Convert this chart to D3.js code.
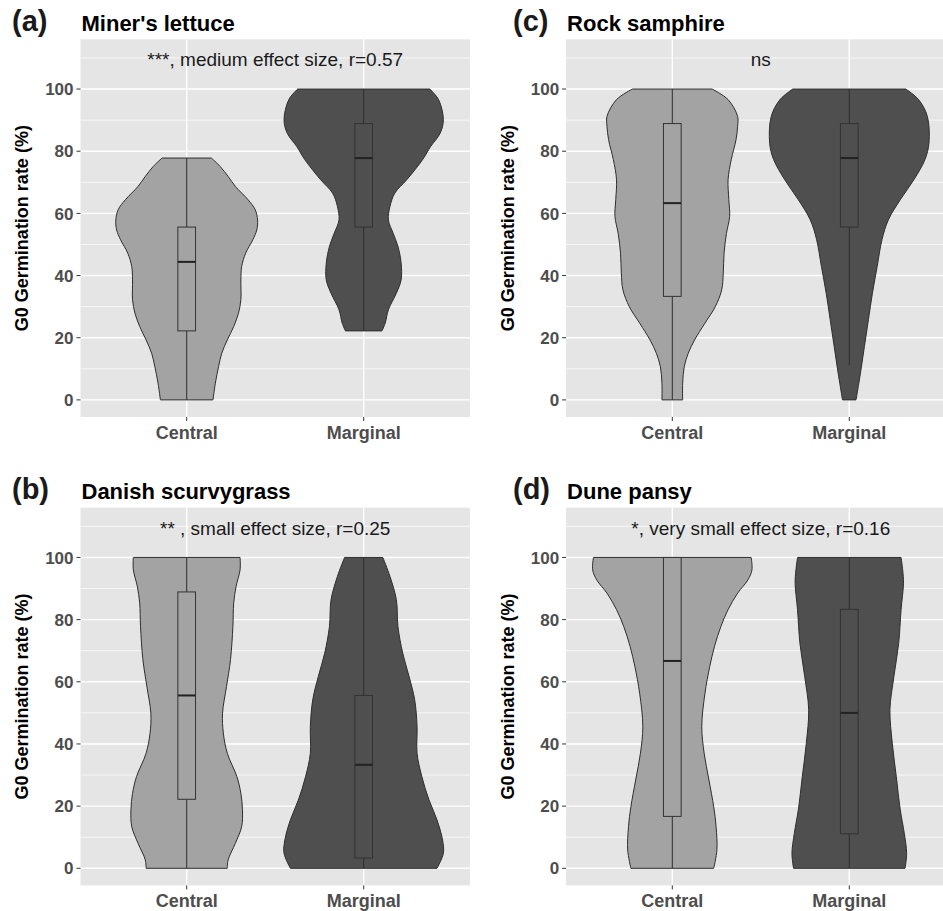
<!DOCTYPE html>
<html><head><meta charset="utf-8">
<script src="https://cdn.jsdelivr.net/npm/d3@7"></script>
<style>body{margin:0;background:#fff}svg{display:block}text{font-family:"Liberation Sans",Arial,sans-serif}</style>
</head><body><svg id="c" width="943" height="911"></svg>
<script>
// ---------- data ----------
const groups = ["Central", "Marginal"];
const panelTags = ["(a)", "(b)", "(c)", "(d)"];
const panelTitles = ["Miner's lettuce", "Danish scurvygrass", "Rock samphire", "Dune pansy"];
const annotations = ["***, medium effect size, r=0.57", "** , small effect size, r=0.25", "ns", "*, very small effect size, r=0.16"];
const yTicks = [0, 20, 40, 60, 80, 100];
const yMinor = [10, 30, 50, 70, 90, 110];
const annotY = 110;

// box-plot statistics per panel: [Central, Marginal]
const whiskerLow = [[0, 22.2], [0, 0], [0, 11.1], [0, 0]];
const quart1     = [[22.2, 55.6], [22.2, 3.3], [33.3, 55.6], [16.7, 11.1]];
const medians    = [[44.4, 77.8], [55.6, 33.3], [63.3, 77.8], [66.7, 50.0]];
const quart3     = [[55.6, 88.9], [88.9, 55.6], [88.9, 88.9], [100, 83.3]];
const whiskerHigh= [[77.8, 100], [100, 100], [100, 100], [100, 100]];

// violin profiles: [germination %, scaled density (1 = widest violin)]
const minersCentral = [[0,.33],[5.4,.36],[10.7,.40],[15,.44],[19.3,.51],[23.6,.59],[27.9,.65],[32.2,.68],[38.6,.68],[42.9,.69],[47.2,.74],[51.5,.83],[54.7,.88],[57.9,.89],[61.2,.86],[64.4,.77],[68.7,.61],[71.9,.52],[75.1,.42],[77.8,.31]];
const minersMarginal = [[22.2,.23],[24.7,.27],[29,.31],[34.3,.41],[38.6,.47],[44,.47],[49.4,.43],[53.6,.37],[57.9,.31],[62.2,.33],[66.5,.39],[70.8,.54],[77.3,.74],[81.5,.84],[85.8,.96],[90.1,1.0],[96.6,.94],[100,.83]];
const danishCentral = [[0,.51],[2.7,.52],[8,.61],[13.4,.69],[18.8,.70],[24.1,.68],[29.5,.63],[37,.51],[43.5,.46],[49.9,.45],[58.5,.50],[67.1,.55],[77.8,.58],[85.3,.59],[90.7,.62],[96,.67],[100,.67]];
const danishMarginal = [[0,.92],[4.8,1.0],[9.1,.99],[15.6,.92],[22,.82],[29.5,.73],[37,.67],[45.6,.67],[54.2,.64],[61.7,.57],[69.2,.49],[77.8,.43],[86.4,.41],[93.9,.33],[100,.24]];
const rockCentral = [[0,.13],[5.4,.13],[10.7,.15],[15,.20],[19.3,.28],[24.7,.41],[30,.54],[35.4,.62],[40.8,.64],[47.2,.65],[53.6,.68],[59,.72],[64.4,.71],[70.8,.70],[77.3,.74],[83.7,.80],[88,.82],[91.2,.82],[96.6,.70],[100,.50]];
const rockMarginal = [[0,.085],[8.6,.14],[17.2,.19],[25.8,.24],[34.3,.29],[42.9,.35],[51.5,.41],[57.9,.49],[64.4,.64],[70.8,.81],[77.3,.95],[82.6,1.0],[91.2,.98],[96.6,.87],[100,.71]];
const pansyCentral = [[0,.52],[5.9,.56],[13.4,.55],[19.8,.52],[28.4,.46],[37,.40],[45.6,.37],[56.3,.41],[64.9,.47],[71.4,.53],[77.8,.61],[83.2,.70],[88.5,.82],[92.8,.95],[96,1.0],[100,.99]];
const pansyMarginal = [[0,.70],[4.8,.72],[11.3,.69],[18.8,.64],[29.5,.59],[40.2,.54],[51,.51],[61.7,.56],[72.4,.62],[83.2,.65],[91.7,.68],[96,.67],[100,.65]];
const violins = [[minersCentral, minersMarginal], [danishCentral, danishMarginal], [rockCentral, rockMarginal], [pansyCentral, pansyMarginal]];

// ---------- layout / style ----------
const fills = ["#a3a3a3", "#4f4f4f"];
const PW = 389.4, PH = 377.7;
const layout = [
  {x0: 80.5, y0: 39.3, tagX: 12, base: 31},
  {x0: 80.5, y0: 507.7, tagX: 12, base: 498.5},
  {x0: 566.1, y0: 39.3, tagX: 513, base: 31},
  {x0: 566.1, y0: 507.7, tagX: 513, base: 498.5}
];

const svg = d3.select("#c");
svg.append("rect").attr("width", 943).attr("height", 911).attr("fill", "#fff");

layout.forEach((L, p) => {
  const x = d3.scaleLinear().domain([0.4, 2.6]).range([L.x0, L.x0 + PW]);
  const y = d3.scaleLinear().domain([-5.5, 116]).range([L.y0 + PH, L.y0]);
  const g = svg.append("g");

  g.append("rect").attr("x", L.x0).attr("y", L.y0).attr("width", PW).attr("height", PH).attr("fill", "#e5e5e5");
  // grid
  g.selectAll(".mn").data(yMinor).join("line")
    .attr("x1", L.x0).attr("x2", L.x0 + PW).attr("y1", d => y(d)).attr("y2", d => y(d))
    .attr("stroke", "#fff").attr("stroke-width", 0.7);
  g.selectAll(".mj").data(yTicks).join("line")
    .attr("x1", L.x0).attr("x2", L.x0 + PW).attr("y1", d => y(d)).attr("y2", d => y(d))
    .attr("stroke", "#fff").attr("stroke-width", 1.4);
  g.selectAll(".vx").data(groups).join("line")
    .attr("x1", (d, i) => x(i + 1)).attr("x2", (d, i) => x(i + 1)).attr("y1", L.y0).attr("y2", L.y0 + PH)
    .attr("stroke", "#fff").attr("stroke-width", 1.4);

  // violins
  groups.forEach((grp, i) => {
    const c = i + 1;
    const area = d3.area()
      .y(d => y(d[0]))
      .x0(d => x(c - d[1] * 0.45))
      .x1(d => x(c + d[1] * 0.45))
      .curve(d3.curveCatmullRom.alpha(0.5));
    g.append("path").attr("d", area(violins[p][i]))
      .attr("fill", fills[i]).attr("stroke", "#2e2e2e").attr("stroke-width", 1);

    // whiskers
    g.append("line").attr("x1", x(c)).attr("x2", x(c))
      .attr("y1", y(quart3[p][i])).attr("y2", y(whiskerHigh[p][i]))
      .attr("stroke", "#2e2e2e").attr("stroke-width", 1);
    g.append("line").attr("x1", x(c)).attr("x2", x(c))
      .attr("y1", y(quart1[p][i])).attr("y2", y(whiskerLow[p][i]))
      .attr("stroke", "#2e2e2e").attr("stroke-width", 1);
    // box
    const bw = 0.05;
    g.append("rect").attr("x", x(c - bw)).attr("width", x(c + bw) - x(c - bw))
      .attr("y", y(quart3[p][i])).attr("height", y(quart1[p][i]) - y(quart3[p][i]))
      .attr("fill", fills[i]).attr("stroke", "#333").attr("stroke-width", 1);
    g.append("line").attr("x1", x(c - bw)).attr("x2", x(c + bw))
      .attr("y1", y(medians[p][i])).attr("y2", y(medians[p][i]))
      .attr("stroke", "#222").attr("stroke-width", 2);
  });

  // annotation
  g.append("text").attr("x", x(1.5)).attr("y", y(annotY) + 8.5)
    .attr("text-anchor", "middle").attr("font-size", 19).attr("fill", "#1a1a1a")
    .text(annotations[p]);

  // axes
  g.selectAll(".yt").data(yTicks).join("line")
    .attr("x1", L.x0 - 4).attr("x2", L.x0).attr("y1", d => y(d)).attr("y2", d => y(d))
    .attr("stroke", "#333").attr("stroke-width", 1);
  g.selectAll(".yl").data(yTicks).join("text")
    .attr("x", L.x0 - 7).attr("y", d => y(d)).attr("dy", "0.36em")
    .attr("text-anchor", "end").attr("font-size", 17).attr("font-weight", "bold").attr("fill", "#4d4d4d")
    .text(d => d);
  g.selectAll(".xt").data(groups).join("line")
    .attr("x1", (d, i) => x(i + 1)).attr("x2", (d, i) => x(i + 1))
    .attr("y1", L.y0 + PH).attr("y2", L.y0 + PH + 4)
    .attr("stroke", "#333").attr("stroke-width", 1);
  g.selectAll(".xl").data(groups).join("text")
    .attr("x", (d, i) => x(i + 1)).attr("y", L.y0 + PH + 22)
    .attr("text-anchor", "middle").attr("font-size", 18).attr("font-weight", "bold").attr("fill", "#4d4d4d")
    .text(d => d);
  g.append("text").attr("transform", `translate(${L.x0 - 52.5},${L.y0 + PH / 2}) rotate(-90)`)
    .attr("text-anchor", "middle").attr("font-size", 18).attr("font-weight", "bold").attr("fill", "#000")
    .text("G0 Germination rate (%)");

  // titles
  g.append("text").attr("x", L.tagX).attr("y", L.base).attr("font-size", 29).attr("font-weight", "bold")
    .attr("fill", "#1a1a1a").text(panelTags[p]);
  g.append("text").attr("x", L.x0 + 1).attr("y", L.base).attr("font-size", 22).attr("font-weight", "bold")
    .attr("fill", "#000").text(panelTitles[p]);
});
</script></body></html>
